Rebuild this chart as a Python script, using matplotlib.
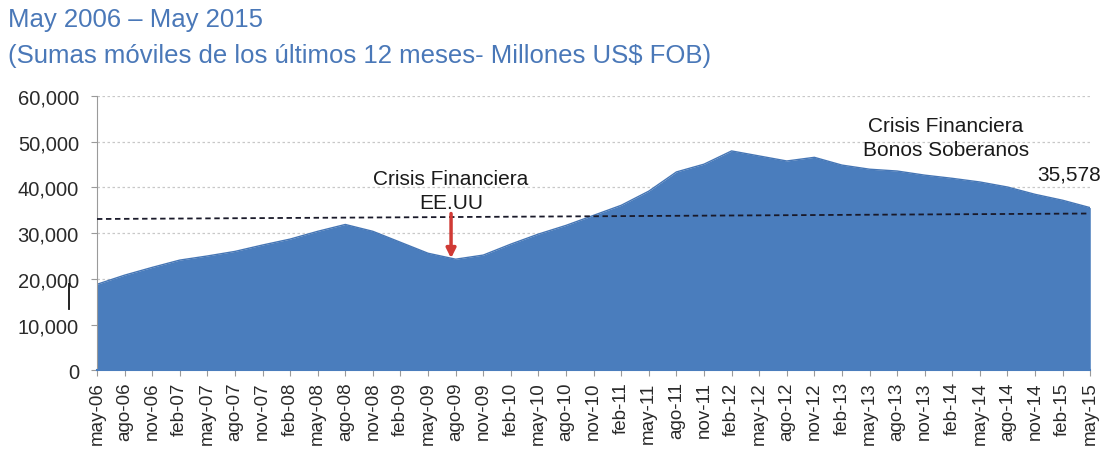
import numpy as np
import matplotlib.pyplot as plt

plt.rcParams["font.family"] = ["Liberation Sans", "DejaVu Sans"]

# quarterly labels, may-06 .. may-15
tick_labels = [
    "may-06", "ago-06", "nov-06", "feb-07", "may-07", "ago-07", "nov-07",
    "feb-08", "may-08", "ago-08", "nov-08", "feb-09", "may-09", "ago-09",
    "nov-09", "feb-10", "may-10", "ago-10", "nov-10", "feb-11", "may-11",
    "ago-11", "nov-11", "feb-12", "may-12", "ago-12", "nov-12", "feb-13",
    "may-13", "ago-13", "nov-13", "feb-14", "may-14", "ago-14", "nov-14",
    "feb-15", "may-15",
]

# 12-month rolling sums, millones US$ FOB
values = [
    18800, 20800, 22500, 24100, 25000, 26000, 27400,
    28700, 30400, 31900, 30400, 28000, 25600, 24300,
    25200, 27600, 29800, 31700, 33900, 36100, 39200,
    43400, 45100, 48000, 46900, 45800, 46600, 44900,
    44000, 43600, 42700, 42000, 41200, 40100, 38500,
    37200, 35578,
]

# hand-drawn reference line (start / end level)
ref_line = [33100, 34300]

months = np.arange(len(values)) * 3  # months since may-06

fig = plt.figure(figsize=(11.08, 4.56), dpi=100)
ax = fig.add_axes([0.0875, 0.186, 0.8965, 0.601])

ax.fill_between(months, values, 0, color="#4a7dbd", lw=0)
ax.plot(months, values, color="#4676b5", lw=1)

ax.set_xlim(months[0], months[-1])
ax.set_ylim(0, 60000)
ax.set_yticks(np.arange(0, 60001, 10000))
ax.set_yticklabels(["{:,}".format(v) for v in range(0, 60001, 10000)],
                   fontsize=14.5, color="#2a2a2a")
ax.set_xticks(months)
ax.set_xticklabels(tick_labels, rotation=90, fontsize=13.5, color="#2a2a2a")

ax.grid(axis="y", color="#c8c8c8", ls=(0, (2, 2)), lw=0.9)
ax.set_axisbelow(True)
for s in ["top", "right"]:
    ax.spines[s].set_visible(False)
ax.spines["left"].set_color("#9a9a9a")
ax.spines["bottom"].set_color("#4a7dbd")
ax.spines["bottom"].set_linewidth(1.5)
ax.tick_params(axis="y", length=4, color="#9a9a9a", pad=9)
ax.tick_params(axis="x", length=4, color="#9a9a9a", pad=4)

# dashed reference line
ax.plot([months[0], months[-1]], ref_line, color="#1a1a2a", ls=(0, (3, 2)), lw=1.3,
        zorder=4)

# red arrow: US financial crisis
ax.annotate("", xy=(38.5, 23900), xytext=(38.5, 34900),
            arrowprops=dict(arrowstyle="-|>", color="#d03a35", lw=2.5,
                            mutation_scale=14), zorder=5)
ax.text(38.5, 34600, "Crisis Financiera\nEE.UU", ha="center", va="bottom",
        fontsize=15, color="#1a1a1a", linespacing=1.35)

ax.text(92.3, 46200, "Crisis Financiera\nBonos Soberanos", ha="center",
        va="bottom", fontsize=15, color="#1a1a1a", linespacing=1.35)
ax.text(months[-1] + 1.2, values[-1] + 7300, "{:,}".format(values[-1]),
        ha="right", va="center", fontsize=15, color="#1a1a1a")

# stray mark left of the axis
ax.plot([-3, -3], [13300, 18800], color="#111111", lw=1.3, clip_on=False)

fig.text(0.007, 0.956, "May 2006 \u2013 May 2015", fontsize=18.5,
         color="#4a78b8", va="center")
fig.text(0.007, 0.878, "(Sumas m\u00f3viles de los \u00faltimos 12 meses- Millones US$ FOB)",
         fontsize=18.5, color="#4a78b8", va="center")

fig.savefig("out.png", dpi=100)
